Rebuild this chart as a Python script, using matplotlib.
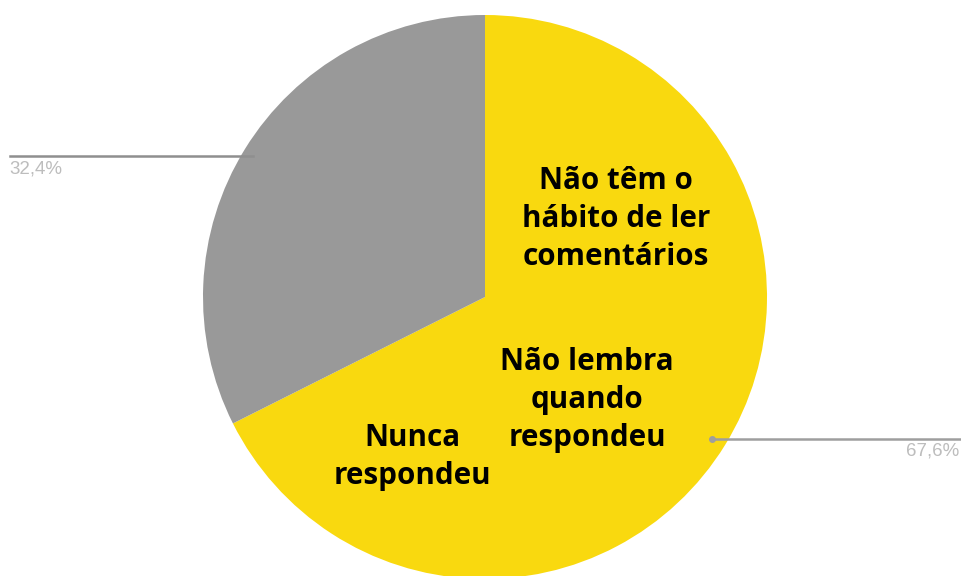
import matplotlib.pyplot as plt

labels = ["Sim", "Não"]
values = [67.6, 32.4]
pct_labels = ["67,6%", "32,4%"]
colors = ["#F9D90F", "#999999"]
inner_texts = ["Não têm o\nhábito de ler\ncomentários", "Não lembra\nquando\nrespondeu", "Nunca\nrespondeu"]

W, H = 962, 576
fig = plt.figure(figsize=(9.62, 5.76), dpi=100)
ax = fig.add_axes([0, 0, 1, 1])

cx, cy, r = 485, H - 297, 282
ax.pie(values, colors=colors, startangle=90, counterclock=False,
       center=(cx, cy), radius=r, frame=True,
       wedgeprops=dict(linewidth=0))
ax.set_xlim(0, W)
ax.set_ylim(0, H)
ax.set_aspect("equal")
ax.axis("off")

# leader lines and percentages
ax.plot([10, 253], [H - 156, H - 156], color="#8f8f8f", lw=1.8)
ax.text(9, H - 161, pct_labels[1], color="#bdbdbd", fontsize=13.5, ha="left", va="top",
        family="Liberation Sans")
ax.plot([712, 960], [H - 439, H - 439], color="#9e9e9e", lw=1.8)
ax.plot([712], [H - 439], "o", color="#9e9e9e", ms=4)
ax.text(959, H - 443, pct_labels[0], color="#bdbdbd", fontsize=13.5, ha="right", va="top",
        family="Liberation Sans")

txt_kw = dict(fontsize=21.3, fontweight="bold", color="black", ha="center", va="center",
              family="Open Sans", linespacing=1.34)
ax.text(616, H - 219, inner_texts[0], **txt_kw)
ax.text(587, H - 400, inner_texts[1], **txt_kw)
ax.text(412, H - 457, inner_texts[2], **txt_kw)

fig.savefig("out.png", dpi=100)
